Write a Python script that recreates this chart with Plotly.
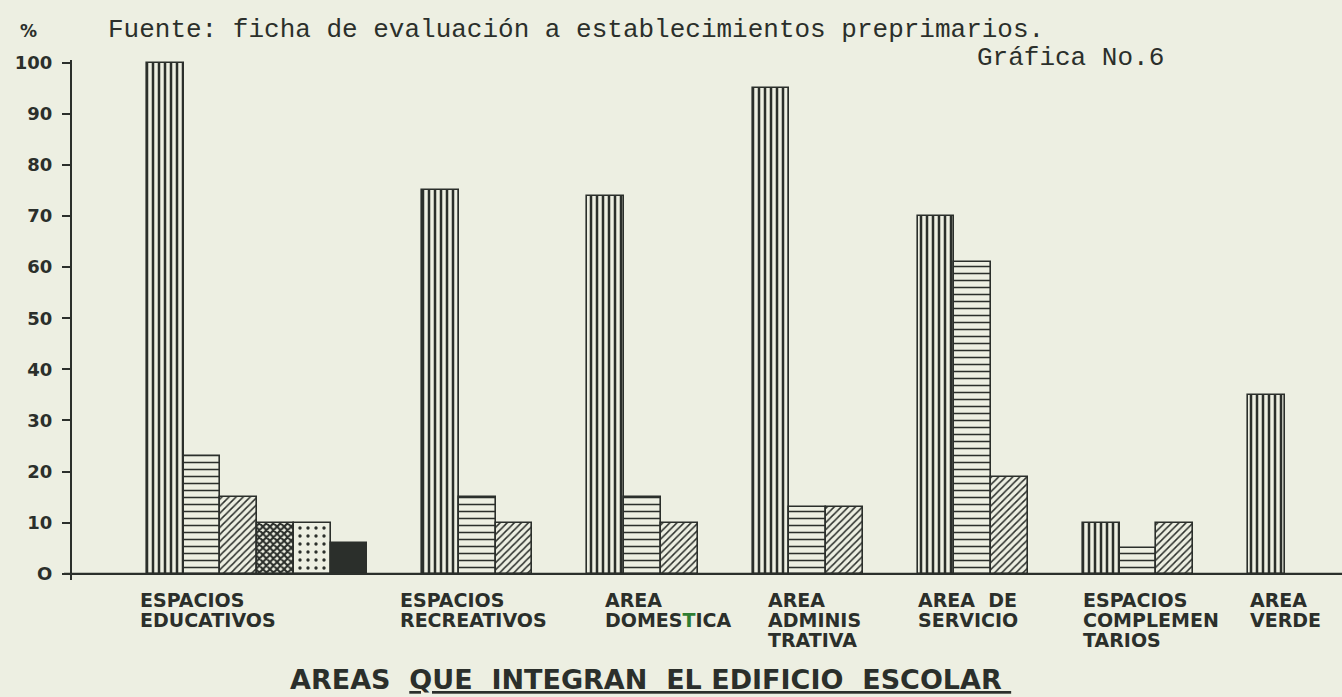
import plotly.graph_objects as go

# ---- data -------------------------------------------------------------
categories = [
    "ESPACIOS<br>EDUCATIVOS",
    "ESPACIOS<br>RECREATIVOS",
    "AREA<br>DOMES<span style='color:#2f7d32'>T</span>ICA",
    "AREA<br>ADMINIS<br>TRATIVA",
    "AREA  DE<br>SERVICIO",
    "ESPACIOS<br>COMPLEMEN<br>TARIOS",
    "AREA<br>VERDE",
]

# one list per hatch style, one value (%) per category
rayado_vertical = [100, 75, 74, 95, 70, 10, 35]
rayado_horizontal = [23, 15, 15, 13, 61, 5, None]
rayado_diagonal = [15, 10, 10, 13, 19, 10, None]
cuadriculado = [10, None, None, None, None, None, None]
punteado = [10, None, None, None, None, None, None]
relleno = [6, None, None, None, None, None, None]

y_ticks = [0, 10, 20, 30, 40, 50, 60, 70, 80, 90, 100]
y_tick_text = ["O", "10", "20", "30", "40", "50", "60", "70", "80", "90", "100"]

# ---- styling ----------------------------------------------------------
PAPER = "#edefe2"
INK = "#2b2f2b"
W, H = 1342, 697
ML, MR, MT, MB = 72, 0, 60, 117
BAR_W_PX = 36.7          # width of one bar in pixels
FIRST_BAR_PX = 147       # left edge of the first group
GAP = 1.5                # gap between groups, in bar widths

series = [
    (rayado_vertical, dict(shape="|", size=6, solidity=0.42)),
    (rayado_horizontal, dict(shape="-", size=7, solidity=0.22)),
    (rayado_diagonal, dict(shape="/", size=5, solidity=0.3)),
    (cuadriculado, dict(shape="x", size=5, solidity=0.65)),
    (punteado, dict(shape=".", size=8, solidity=0.14)),
    (relleno, None),
]

# group start positions along the x axis (in bar widths)
n_bars = [sum(1 for vals, _ in series if vals[k] is not None) for k in range(len(categories))]
starts = []
pos = 0.0
for n in n_bars:
    starts.append(pos)
    pos += n + GAP

fig = go.Figure()
for j, (vals, pat) in enumerate(series):
    xs = [starts[k] + j + 0.5 for k, v in enumerate(vals) if v is not None]
    ys = [v for v in vals if v is not None]
    marker = dict(color=PAPER, line=dict(color=INK, width=1.6))
    if pat is None:
        marker["color"] = INK
    else:
        marker["pattern"] = dict(fgcolor=INK, bgcolor=PAPER, fillmode="replace", **pat)
    fig.add_trace(go.Bar(x=xs, y=ys, width=1.0, marker=marker, showlegend=False,
                         hoverinfo="y"))

plot_w = W - ML - MR
x_lo = (ML - FIRST_BAR_PX) / BAR_W_PX
x_hi = x_lo + plot_w / BAR_W_PX


def px(xp, yp):
    """pixel position -> paper coordinates"""
    return (xp - ML) / plot_w, (H - MB - yp) / (H - MT - MB)


annotations = []

# category labels, left aligned under each group, one annotation per line
label_dx = [-9, -24, 16, 13, -2, -2, 0]
for k, lab in enumerate(categories):
    left_px = FIRST_BAR_PX + starts[k] * BAR_W_PX + label_dx[k]
    for i, line in enumerate(lab.split("<br>")):
        x, y = px(left_px, 600 + i * 20)
        annotations.append(dict(x=x, y=y, xref="paper", yref="paper", text=line,
                                showarrow=False, xanchor="left", yanchor="middle",
                                font=dict(family="DejaVu Sans", size=19, color=INK,
                                          weight="bold")))

x, y = px(28, 31)
annotations.append(dict(x=x, y=y, xref="paper", yref="paper", text="%",
                        showarrow=False, xanchor="center", yanchor="middle",
                        font=dict(family="DejaVu Sans", size=17, color=INK, weight="bold")))
x, y = px(106, 30)
annotations.append(dict(x=x, y=y, xref="paper", yref="paper",
                        text="Fuente: ficha de evaluación a establecimientos preprimarios.",
                        showarrow=False, xanchor="left", yanchor="middle",
                        font=dict(family="Liberation Mono", size=26, color=INK)))
x, y = px(975, 58)
annotations.append(dict(x=x, y=y, xref="paper", yref="paper", text="Gráfica No.6",
                        showarrow=False, xanchor="left", yanchor="middle",
                        font=dict(family="Liberation Mono", size=26, color=INK)))
x, y = px(288, 679)
annotations.append(dict(x=x, y=y, xref="paper", yref="paper",
                        text="AREAS  <u>QUE  INTEGRAN  EL EDIFICIO  ESCOLAR </u>",
                        showarrow=False, xanchor="left", yanchor="middle",
                        font=dict(family="DejaVu Sans", size=27, color=INK, weight="bold")))

fig.update_layout(
    width=W, height=H,
    margin=dict(l=ML, r=MR, t=MT, b=MB, pad=0),
    paper_bgcolor=PAPER, plot_bgcolor=PAPER,
    bargap=0, barmode="overlay",
    xaxis=dict(range=[x_lo, x_hi], visible=False, fixedrange=True),
    yaxis=dict(range=[-1.2, 100.5], showgrid=False, zeroline=False,
               showline=True, linecolor=INK, linewidth=2.2,
               ticks="outside", ticklen=8, tickwidth=2, tickcolor=INK,
               tickvals=y_ticks, ticktext=y_tick_text, ticklabelstandoff=6,
               tickfont=dict(family="DejaVu Sans", size=18, color=INK, weight="bold"),
               fixedrange=True),
    # baseline of the bars, running a little past the y axis on the left
    shapes=[dict(type="line", xref="paper", yref="y", x0=-8 / plot_w, x1=1, y0=0, y1=0,
                 line=dict(color=INK, width=2.2), layer="above")],
    annotations=annotations,
    showlegend=False,
)

fig.write_html("out.html")
